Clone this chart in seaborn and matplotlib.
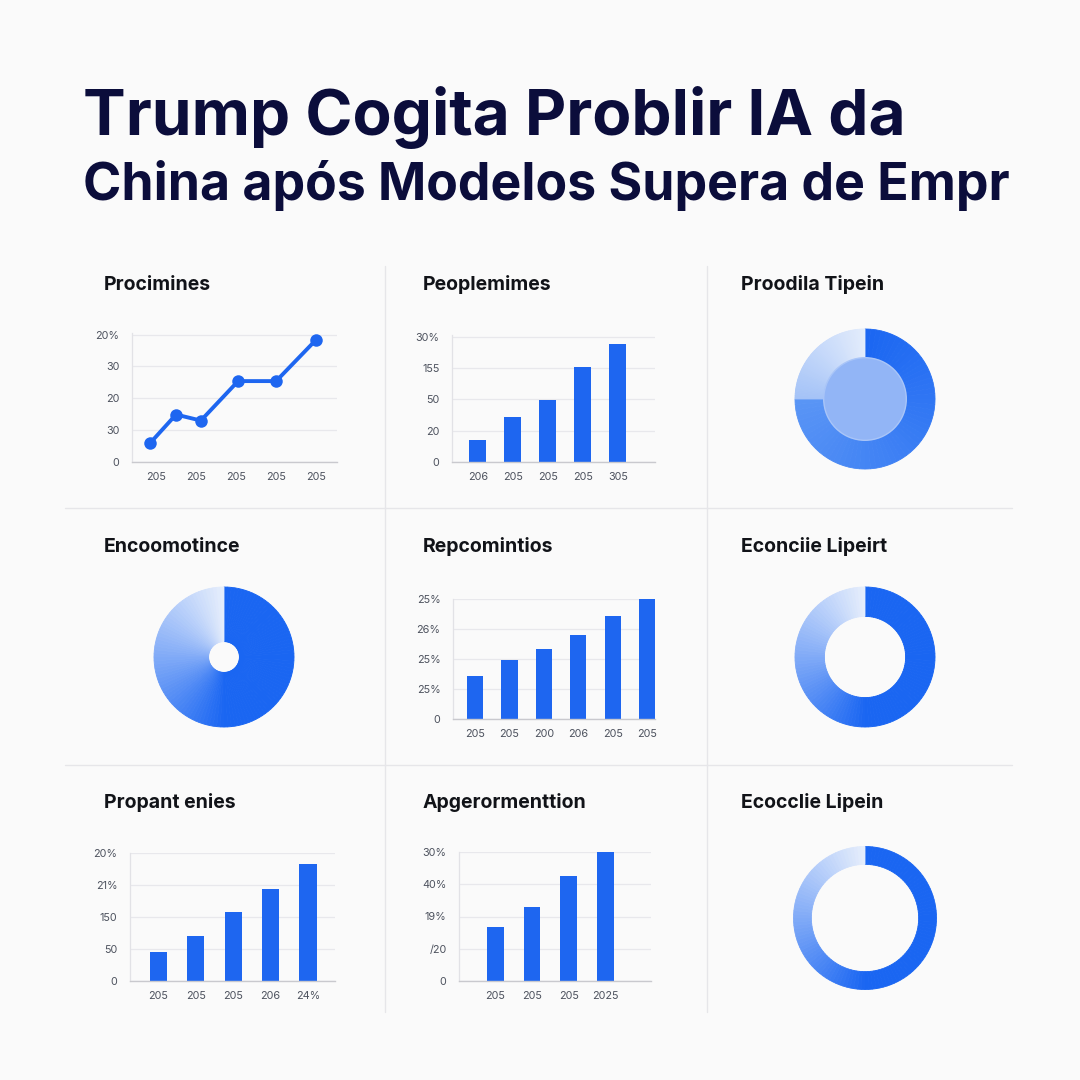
import numpy as np
import pandas as pd
import matplotlib
matplotlib.use("Agg")
import matplotlib.pyplot as plt
import seaborn as sns
from matplotlib.lines import Line2D
from matplotlib.colors import to_rgb

# ---------------- data ----------------
title_line1 = "Trump Cogita Problir IA da"
title_line2 = "China após Modelos Supera de Empr"

panel_titles = ["Procimines", "Peoplemimes", "Proodila Tipein",
                "Encoomotince", "Repcomintios", "Econciie Lipeirt",
                "Propant enies", "Apgerormenttion", "Ecocclie Lipein"]

# line chart (panel 1)
line_x = [-0.15, 0.5, 1.12, 2.05, 3.0, 4.0]
line_y = [5.9, 14.9, 13.0, 25.4, 25.4, 38.4]
line_xticklabels = ["205", "205", "205", "205", "205"]
line_yticklabels = ["0", "30", "20", "30", "20%"]

# bar chart (panel 2)
bar2_values = [6.9, 14.5, 19.8, 30.2, 37.5]
bar2_xlabels = ["206", "205", "205", "205", "305"]
bar2_ylabels = ["0", "20", "50", "155", "30%"]

# bar chart (panel 5)
bar5_values = [14.3, 19.7, 23.3, 28.0, 34.3, 40.0]
bar5_xlabels = ["205", "205", "200", "206", "205", "205"]
bar5_ylabels = ["0", "25%", "25%", "26%", "25%"]

# bar chart (panel 7)
bar7_values = [9.1, 14.1, 21.6, 28.8, 36.6]
bar7_xlabels = ["205", "205", "205", "206", "24%"]
bar7_ylabels = ["0", "50", "150", "21%", "20%"]

# bar chart (panel 8)
bar8_values = [16.7, 22.9, 32.6, 40.0]
bar8_xlabels = ["205", "205", "205", "2025"]
bar8_ylabels = ["0", "/20", "19%", "40%", "30%"]

# donuts (shares)
donut3_values = [75, 25]
donut4_values = [50, 50]
donut6_values = [50, 50]
donut9_values = [50, 50]

# ---------------- style ----------------
BLUE = "#1e66f0"
NAVY = "#0b0d3b"
GRID = "#e8e8ec"
TICK = "#4d525e"
BG = "#fafafa"

sns.set_theme(style="white")
plt.rcParams["font.family"] = ["Inter", "DejaVu Sans"]

W = H = 1080
fig = plt.figure(figsize=(10.8, 10.8), dpi=100, facecolor=BG)


def add_ax(x0, y0, x1, y1):
    """pixel box (top-left origin) -> axes"""
    return fig.add_axes([x0 / W, 1 - y1 / H, (x1 - x0) / W, (y1 - y0) / H])


def style_axis(ax, ylabels, xlabels, xticks):
    ax.set_facecolor("none")
    ax.set_ylim(0, 40.5)
    ax.set_yticks([0, 10, 20, 30, 40])
    ax.set_yticklabels(ylabels)
    ax.set_xticks(xticks)
    ax.set_xticklabels(xlabels)
    ax.grid(axis="y", color=GRID, linewidth=0.9)
    ax.grid(axis="x", visible=False)
    ax.set_axisbelow(True)
    for s in ["top", "right"]:
        ax.spines[s].set_visible(False)
    ax.spines["left"].set_color("#e2e2e6")
    ax.spines["left"].set_linewidth(0.9)
    ax.spines["bottom"].set_color("#c9c9ce")
    ax.spines["bottom"].set_linewidth(1.0)
    ax.tick_params(axis="both", length=0, labelsize=7.8, colors=TICK)
    ax.tick_params(axis="y", pad=9)
    ax.tick_params(axis="x", pad=7)
    ax.set_xlabel("")
    ax.set_ylabel("")


# ---------------- title ----------------
fig.text(83 / W, 1 - 135 / H, title_line1, fontsize=46, fontweight="bold",
         color=NAVY, ha="left", va="baseline")
fig.text(83 / W, 1 - 200 / H, title_line2, fontsize=37.3, fontweight="bold",
         color=NAVY, ha="left", va="baseline")

# ---------------- separators ----------------
for x in [385, 707]:
    fig.add_artist(Line2D([x / W, x / W], [1 - 266 / H, 1 - 1012 / H],
                          color="#e6e6e9", linewidth=1.0))
for y in [508, 765]:
    fig.add_artist(Line2D([65 / W, 1012 / W], [1 - y / H, 1 - y / H],
                          color="#e6e6e9", linewidth=1.0))

# ---------------- panel titles ----------------
tx = [104, 423, 741]
ty = [285, 547, 803]
for i, t in enumerate(panel_titles):
    fig.text(tx[i % 3] / W, 1 - ty[i // 3] / H, t, fontsize=14,
             fontweight="bold", color="#111318", ha="left", va="center")

# ---------------- panel 1 : line ----------------
ax1 = add_ax(132, 333, 337, 462)
df1 = pd.DataFrame({"x": line_x, "y": line_y})
sns.lineplot(data=df1, x="x", y="y", ax=ax1, color=BLUE, linewidth=2.8,
             marker="o", markersize=9, markeredgewidth=0)
style_axis(ax1, line_yticklabels, line_xticklabels, [0, 1, 2, 3, 4])
ax1.set_xlim(-0.6, 4.52)
for l in ax1.lines:
    l.set_clip_on(False)


# ---------------- bar panels ----------------
def bar_panel(box, values, xlabels, ylabels, width, xlim, ylim_top=40.5):
    ax = add_ax(*box)
    df = pd.DataFrame({"cat": [str(i) for i in range(len(values))], "v": values})
    sns.barplot(data=df, x="cat", y="v", ax=ax, color=BLUE, width=width,
                saturation=1, linewidth=0)
    style_axis(ax, ylabels, xlabels, list(range(len(values))))
    ax.set_ylim(0, ylim_top)
    ax.set_xlim(*xlim)
    return ax


bar_panel((452, 335, 655, 462), bar2_values, bar2_xlabels, bar2_ylabels,
          0.49, (-0.74, 5.06))
bar_panel((453, 599, 655, 719), bar5_values, bar5_xlabels, bar5_ylabels,
          0.47, (-0.64, 5.23), 40.0)
bar_panel((130, 853, 335, 981), bar7_values, bar7_xlabels, bar7_ylabels,
          0.46, (-0.76, 4.72), 40.0)
bar_panel((459, 852, 651, 981), bar8_values, bar8_xlabels, bar8_ylabels,
          0.46, (-0.99, 4.24), 40.0)


# ---------------- donuts ----------------
def mix(c1, c2, t):
    a, b = np.array(to_rgb(c1)), np.array(to_rgb(c2))
    return tuple(a + (b - a) * t)


def donut(cx, cy, r, values, seg_colors, hole, inner_fill=None, nsub=60):
    ax = add_ax(cx - r, cy - r, cx + r, cy + r)
    sizes, cols = [], []
    for v, (c0, c1) in zip(values, seg_colors):
        for k in range(nsub):
            sizes.append(v / nsub)
            cols.append(mix(c0, c1, (k + 0.5) / nsub))
    wedges, _ = ax.pie(sizes, colors=cols, startangle=90, counterclock=False,
                       radius=1.0, wedgeprops=dict(width=1 - hole, linewidth=0.6))
    for w in wedges:
        w.set_edgecolor(w.get_facecolor())
    if inner_fill is not None:
        ax.pie([1], colors=[inner_fill], radius=hole,
               wedgeprops=dict(linewidth=1.0, edgecolor="#a9c5f8"))
    ax.set_xlim(-1, 1)
    ax.set_ylim(-1, 1)
    ax.set_aspect("equal")
    ax.axis("off")
    return ax


DARK = "#1a66f2"
LIGHT = "#e6eefc"

donut(865, 399, 70, donut3_values,
      [(DARK, "#5a95f5"), ("#a3c2f7", "#e3ecfc")], hole=0.59,
      inner_fill="#92b5f6")
grad = [(DARK, DARK), (DARK, LIGHT)]
donut(224, 657, 70, donut4_values, grad, hole=0.22)
donut(865, 657, 70, donut6_values, grad, hole=0.58)
donut(865, 918, 71.5, donut9_values, grad, hole=0.75)

fig.savefig("out.png", dpi=100, facecolor=BG)
